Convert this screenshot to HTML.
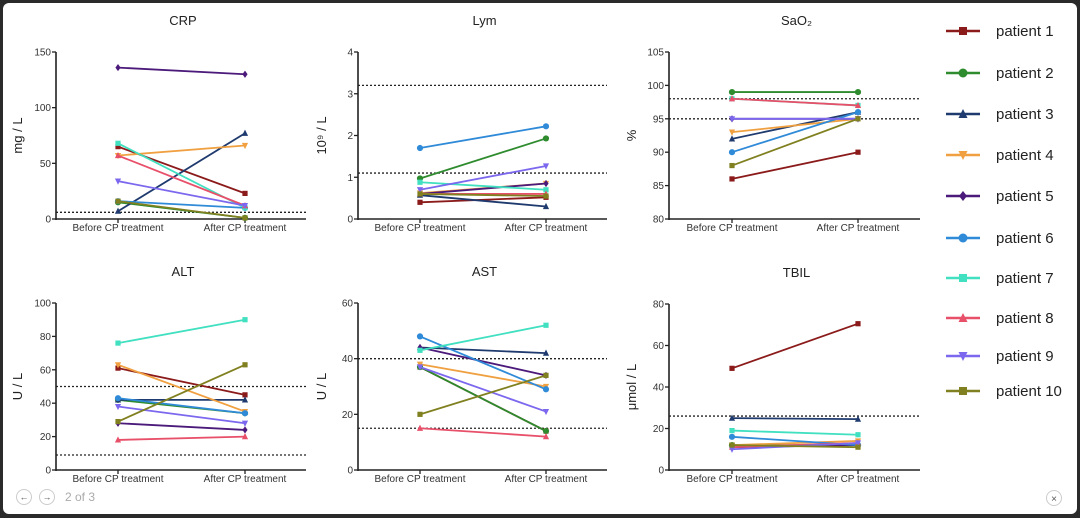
<!DOCTYPE html>
<html><head><meta charset="utf-8"><style>
html,body{margin:0;padding:0;background:#2a2a2a;}
#wrap{position:relative;width:1080px;height:518px;overflow:hidden;background:#2a2a2a;}
#panel{position:absolute;left:3px;top:3px;width:1074px;height:511px;background:#fff;border-radius:6px;}
svg{position:absolute;left:0;top:0;font-family:"Liberation Sans",sans-serif;}
</style></head><body>
<div id="wrap">
<div id="panel"></div>
<svg id="chart" width="1080" height="518"></svg>
</div>
<script>
const categories = ["Before CP treatment","After CP treatment"];
const patients = ["patient 1","patient 2","patient 3","patient 4","patient 5","patient 6","patient 7","patient 8","patient 9","patient 10"];
const colors = ["#8b1a1a","#2e8b2e","#1f3a6e","#f0a040","#4b1a7a","#2f8ad8","#40e0c0","#e8506a","#7b68ee","#808020"];
const markers = ["square","circle","tri","tridown","diamond","circle","square","tri","tridown","square"];

const crpBefore = [65,15,7,57,136,16,68,57,34,16];
const crpAfter  = [23,1,77,66,130,10,10,12,12,1];
const lymBefore = [0.4,0.97,0.57,0.62,0.6,1.7,0.88,0.6,0.7,0.6];
const lymAfter  = [0.52,1.93,0.3,0.85,0.85,2.22,0.7,0.6,1.27,0.55];
const saoBefore = [86,99,92,93,95,90,98,98,95,88];
const saoAfter  = [90,99,96,95,95,96,97,97,95,95];
const altBefore = [61,42,42,63,28,43,76,18,38,29];
const altAfter  = [45,34,42,35,24,34,90,20,28,63];
const astBefore = [37,37,44,38,44,48,43,15,37,20];
const astAfter  = [14,14,42,30,34,29,52,12,21,34];
const tbilBefore = [49,12,25,12,11,16,19,11,10,12];
const tbilAfter  = [70.5,12,24.5,14,12,12,17,13,13,11];

const crpTicks=[0,50,100,150], lymTicks=[0,1,2,3,4], saoTicks=[80,85,90,95,100,105];
const altTicks=[0,20,40,60,80,100], astTicks=[0,20,40,60], tbilTicks=[0,20,40,60,80];

const panels = [
 {key:"crp",title:"CRP",ylab:"mg / L",ax:56,top:52,bot:219,xe:306,bx:118,afx:245,min:0,max:150,ticks:crpTicks,before:crpBefore,after:crpAfter,refs:[6],ylx:22},
 {key:"lym",title:"Lym",ylab:"10⁹ / L",ax:358,top:52,bot:219,xe:607,bx:420,afx:546,min:0,max:4,ticks:lymTicks,before:lymBefore,after:lymAfter,refs:[1.1,3.2],ylx:326},
 {key:"sao2",title:"SaO₂",ylab:"%",ax:669,top:52,bot:219,xe:920,bx:732,afx:858,min:80,max:105,ticks:saoTicks,before:saoBefore,after:saoAfter,refs:[95,98],ylx:636},
 {key:"alt",title:"ALT",ylab:"U / L",ax:56,top:303,bot:470,xe:306,bx:118,afx:245,min:0,max:100,ticks:altTicks,before:altBefore,after:altAfter,refs:[9,50],ylx:22},
 {key:"ast",title:"AST",ylab:"U / L",ax:358,top:303,bot:470,xe:607,bx:420,afx:546,min:0,max:60,ticks:astTicks,before:astBefore,after:astAfter,refs:[15,40],ylx:326},
 {key:"tbil",title:"TBIL",ylab:"μmol / L",ax:669,top:304,bot:470,xe:920,bx:732,afx:858,min:0,max:80,ticks:tbilTicks,before:tbilBefore,after:tbilAfter,refs:[26],ylx:636}
];
const NS="http://www.w3.org/2000/svg";
const svg=document.getElementById("chart");
function mk(tag,attrs,parent){const e=document.createElementNS(NS,tag);for(const k in attrs)e.setAttribute(k,attrs[k]);(parent||svg).appendChild(e);return e;}
function marker(g,type,x,y,c,s){
 if(type==="square")return mk("rect",{x:x-s,y:y-s,width:2*s,height:2*s,fill:c},g);
 if(type==="circle")return mk("circle",{cx:x,cy:y,r:s+0.5,fill:c},g);
 if(type==="tri")return mk("polygon",{points:`${x},${y-s-1} ${x-s-0.5},${y+s} ${x+s+0.5},${y+s}`,fill:c},g);
 if(type==="tridown")return mk("polygon",{points:`${x},${y+s+1} ${x-s-0.5},${y-s} ${x+s+0.5},${y-s}`,fill:c},g);
 return mk("polygon",{points:`${x},${y-s-1} ${x+s},${y} ${x},${y+s+1} ${x-s},${y}`,fill:c},g);
}
panels.forEach(p=>{
 const g=mk("g",{});
 
 
 const ys=v=>p.bot-(v-p.min)/(p.max-p.min)*(p.bot-p.top);
 const t=mk("text",{x:(p.ax+p.xe)/2+2,y:p.top-27,"text-anchor":"middle","font-size":13,fill:"#222"},g);
 t.textContent=p.title;
 
 
 const yl=mk("text",{x:p.ylx,y:(p.top+p.bot)/2,"text-anchor":"middle","font-size":13,fill:"#222",transform:`rotate(-90 ${p.ylx} ${(p.top+p.bot)/2})`},g);
 yl.textContent=p.ylab;
 
 
 const ax=mk("line",{x1:p.ax,y1:p.top,x2:p.ax,y2:p.bot+1,stroke:"#222","stroke-width":1.6},g);
 
 
 const xa=mk("line",{x1:p.ax,y1:p.bot,x2:p.xe,y2:p.bot,stroke:"#222","stroke-width":1.6},g);
 
 
 p.ticks.forEach(v=>{
  const y=ys(v);
  mk("line",{x1:p.ax-4,y1:y,x2:p.ax,y2:y,stroke:"#222","stroke-width":1.3},g);
  const tl=mk("text",{x:p.ax-5,y:y+3.5,"text-anchor":"end","font-size":10,fill:"#333"},g);
  tl.textContent=v;
  
  
 });
 [p.bx,p.afx].forEach((x,i)=>{
  mk("line",{x1:x,y1:p.bot,x2:x,y2:p.bot+4,stroke:"#222","stroke-width":1.3},g);
  const cl=mk("text",{x:x,y:p.bot+12,"text-anchor":"middle","font-size":10,fill:"#333"},g);
  cl.textContent=categories[i];
  
  
 });
 p.refs.forEach(v=>{
  const r=mk("line",{x1:p.ax,y1:ys(v),x2:p.xe,y2:ys(v),stroke:"#222","stroke-width":1.3,"stroke-dasharray":"2,2"},g);
  
  
 });
 patients.forEach((pt,i)=>{
  const sg=mk("g",{},g);
  
  
  mk("line",{x1:p.bx,y1:ys(p.before[i]),x2:p.afx,y2:ys(p.after[i]),stroke:colors[i],"stroke-width":1.8},sg);
  marker(sg,markers[i],p.bx,ys(p.before[i]),colors[i],2.6);
  marker(sg,markers[i],p.afx,ys(p.after[i]),colors[i],2.6);
 });
});
// legend
const legY=[31,73,114,155,196,238,278,318,356,391];
patients.forEach((pt,i)=>{
 const lg=mk("g",{});
 
 
 mk("line",{x1:946,y1:legY[i],x2:980,y2:legY[i],stroke:colors[i],"stroke-width":2.5},lg);
 marker(lg,markers[i],963,legY[i],colors[i],4);
 const lt=mk("text",{x:996,y:legY[i]+5,"font-size":15,fill:"#222"},lg);
 lt.textContent=pt;
});
// nav
[[24,"←","prev-button"],[47,"→","next-button"]].forEach(([x,s,n])=>{
 const b=mk("g",{});
 
 
 mk("circle",{cx:x,cy:497,r:7.5,fill:"#fff",stroke:"#ccc","stroke-width":1},b);
 const tx=mk("text",{x:x,y:500,"text-anchor":"middle","font-size":9,fill:"#555"},b);tx.textContent=s;
});
const pg=mk("text",{x:65,y:501,"font-size":12,fill:"#aaa"});pg.textContent="2 of 3";


const cb=mk("g",{});


mk("circle",{cx:1054,cy:498,r:7.5,fill:"#fff",stroke:"#ccc","stroke-width":1},cb);
const cx=mk("text",{x:1054,y:502,"text-anchor":"middle","font-size":10,fill:"#555"},cb);cx.textContent="×";
</script>
</body></html>
